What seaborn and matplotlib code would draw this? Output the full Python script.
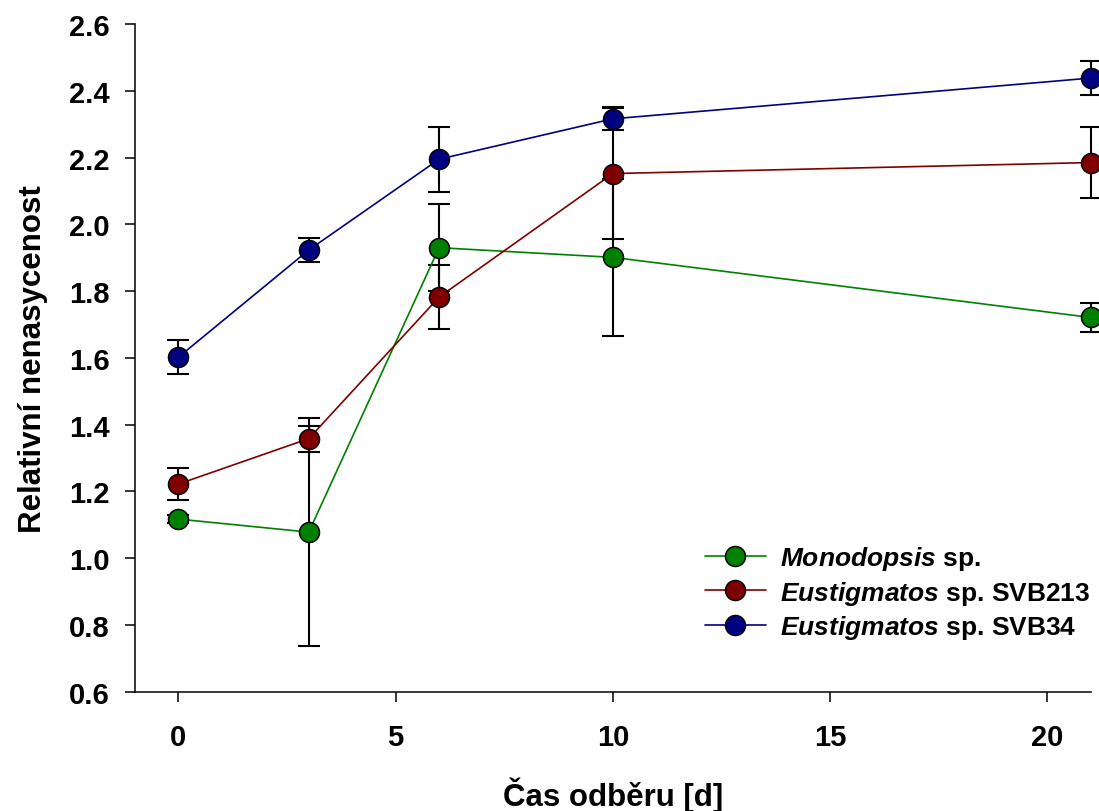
import matplotlib
matplotlib.use("Agg")
import matplotlib.pyplot as plt
from matplotlib.lines import Line2D
import numpy as np
import pandas as pd
import seaborn as sns

# ---- data ----
days = [0, 3, 6, 10, 21]
species = ["Monodopsis sp.", "Eustigmatos sp. SVB213", "Eustigmatos sp. SVB34"]
legend_labels = [r"$\mathit{Monodopsis}$ sp.",
                 r"$\mathit{Eustigmatos}$ sp. SVB213",
                 r"$\mathit{Eustigmatos}$ sp. SVB34"]
mono_mean = [1.117, 1.078, 1.930, 1.901, 1.721]
mono_sd = [0.012, 0.342, 0.130, 0.235, 0.044]
svb213_mean = [1.222, 1.358, 1.782, 2.152, 2.185]
svb213_sd = [0.049, 0.039, 0.095, 0.195, 0.105]
svb34_mean = [1.602, 1.923, 2.195, 2.316, 2.438]
svb34_sd = [0.050, 0.035, 0.097, 0.035, 0.050]
colors = ["#008000", "#800000", "#000080"]
x_ticks = [0, 5, 10, 15, 20]
y_ticks = [0.6, 0.8, 1.0, 1.2, 1.4, 1.6, 1.8, 2.0, 2.2, 2.4, 2.6]

means = [mono_mean, svb213_mean, svb34_mean]
sds = [mono_sd, svb213_sd, svb34_sd]

df = pd.concat([
    pd.DataFrame({"day": days, "value": m, "sd": s, "species": sp})
    for sp, m, s in zip(species, means, sds)
], ignore_index=True)

sns.set_style("ticks")
plt.rcParams.update({
    "font.family": ["Liberation Sans", "DejaVu Sans"],
    "font.weight": "bold",
    "axes.labelweight": "bold",
    "text.color": "black",
    "axes.labelcolor": "black",
    "xtick.color": "black",
    "ytick.color": "black",
    "axes.edgecolor": "black",
    "mathtext.fontset": "custom",
    "mathtext.it": "Liberation Sans:italic:bold",
    "mathtext.rm": "Liberation Sans:bold",
    "mathtext.bf": "Liberation Sans:bold",
})

W, H = 1099, 812
fig = plt.figure(figsize=(W / 100, H / 100), dpi=100)
left, right, top, bottom = 135, 1090.7, 25, 692.7
ax = fig.add_axes([left / W, 1 - bottom / H, (right - left) / W, (bottom - top) / H])

# error bars (behind markers)
for sp in species:
    sub = df[df["species"] == sp]
    eb = ax.errorbar(sub["day"], sub["value"], yerr=sub["sd"], fmt="none",
                     ecolor="black", elinewidth=1.5, capsize=8, capthick=1.5,
                     zorder=2)
    for art in eb.lines[1] + eb.lines[2]:
        art.set_clip_on(False)

pal = dict(zip(species, colors))
sns.lineplot(data=df, x="day", y="value", hue="species", hue_order=species,
             palette=pal, marker="o", markersize=14.4, markeredgecolor="black",
             markeredgewidth=1.1, linewidth=1.2, errorbar=None, legend=False,
             ax=ax, zorder=3, clip_on=False)

ax.set_xlim(-1, 21)
ax.set_ylim(0.6, 2.6)
ax.set_xticks(x_ticks)
ax.set_yticks(y_ticks)
ax.set_yticklabels([f"{v:.1f}" for v in y_ticks])
ax.tick_params(direction="out", length=7.2, width=1.1, labelsize=21,
               colors="black")
ax.tick_params(axis="y", pad=11)
ax.tick_params(axis="x", pad=15)
for lab in ax.get_xticklabels() + ax.get_yticklabels():
    lab.set_fontweight("bold")
for s in ["top", "right"]:
    ax.spines[s].set_visible(False)
for s in ["left", "bottom"]:
    ax.spines[s].set_linewidth(1.1)
    ax.spines[s].set_color("black")

ax.set_xlabel("Čas odběru [d]", fontsize=22.5, fontweight="bold", labelpad=19,
              color="black")
ax.set_ylabel("Relativní nenasycenost", fontsize=22.5, fontweight="bold",
              labelpad=15, color="black")

handles = [Line2D([], [], color=c, marker="o", markersize=14.4,
                  markeredgecolor="black", markeredgewidth=1.1, linewidth=1.2)
           for c in colors]
leg = ax.legend(handles, legend_labels, loc="upper left",
                bbox_to_anchor=(705 / W, 1 - 545 / H), bbox_transform=fig.transFigure,
                frameon=False, fontsize=19, handlelength=2.3, handletextpad=0.55,
                labelspacing=0.25, borderpad=0, borderaxespad=0)
for t in leg.get_texts():
    t.set_color("black")

fig.savefig("out.png", dpi=100)
